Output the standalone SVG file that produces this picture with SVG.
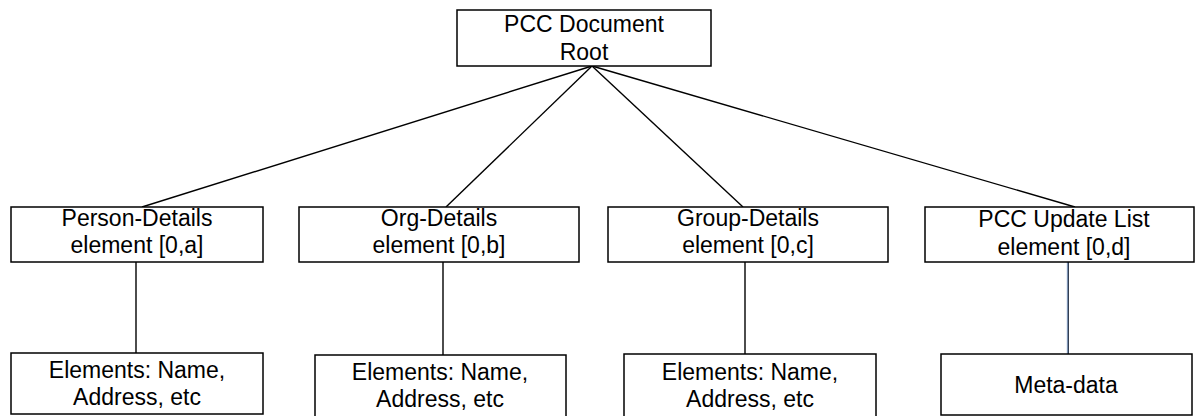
<svg xmlns="http://www.w3.org/2000/svg" width="1195" height="416" viewBox="0 0 1195 416">
<style>
rect.box{fill:#fff;stroke:#000;stroke-width:1.5}
line.c{stroke:#000;stroke-width:1.4}
text{font-family:"Liberation Sans",Arial,sans-serif;font-size:23px;fill:#000;text-anchor:middle}
</style>
<rect width="1195" height="416" fill="#fff"/>
<g id="connectors">
<line class="c" x1="592" y1="66" x2="142" y2="207"/>
<line class="c" x1="592" y1="66" x2="446" y2="207"/>
<line class="c" x1="592" y1="66" x2="743" y2="207"/>
<line class="c" x1="592" y1="66" x2="1075" y2="207"/>
<line class="c" x1="136" y1="262" x2="136" y2="353"/>
<line class="c" x1="443" y1="262" x2="443" y2="355"/>
<line class="c" x1="745" y1="262" x2="745" y2="354"/>
<line x1="1067.3" y1="262" x2="1067.3" y2="354" stroke="#8fb0dc" stroke-width="1"/>
<line x1="1068.3" y1="262" x2="1068.3" y2="354" stroke="#1c2a40" stroke-width="1.2"/>
</g>
<g id="root">
<rect class="box" x="457" y="10" width="254" height="56"/>
<text x="584" y="32">PCC Document</text>
<text x="584" y="60">Root</text>
</g>
<g id="person">
<rect class="box" x="11" y="207" width="252" height="55"/>
<text x="137" y="226">Person-Details</text>
<text x="137" y="253">element [0,a]</text>
</g>
<g id="org">
<rect class="box" x="299" y="207" width="280" height="55"/>
<text x="439" y="226">Org-Details</text>
<text x="439" y="253">element [0,b]</text>
</g>
<g id="group">
<rect class="box" x="608" y="207" width="280" height="55"/>
<text x="748" y="226">Group-Details</text>
<text x="748" y="253">element [0,c]</text>
</g>
<g id="update">
<rect class="box" x="925" y="207" width="269" height="55"/>
<text x="1064" y="227">PCC Update List</text>
<text x="1064" y="255">element [0,d]</text>
</g>
<g id="person-elements">
<rect class="box" x="11" y="353" width="252" height="61"/>
<text x="137" y="378">Elements: Name,</text>
<text x="137" y="405">Address, etc</text>
</g>
<g id="org-elements">
<rect class="box" x="315" y="355" width="251" height="64"/>
<text x="440" y="380">Elements: Name,</text>
<text x="440" y="407">Address, etc</text>
</g>
<g id="group-elements">
<rect class="box" x="624" y="354" width="252" height="65"/>
<text x="750" y="380">Elements: Name,</text>
<text x="750" y="407">Address, etc</text>
</g>
<g id="meta">
<rect class="box" x="941" y="354" width="251" height="61"/>
<text x="1066" y="393">Meta-data</text>
</g>
</svg>
